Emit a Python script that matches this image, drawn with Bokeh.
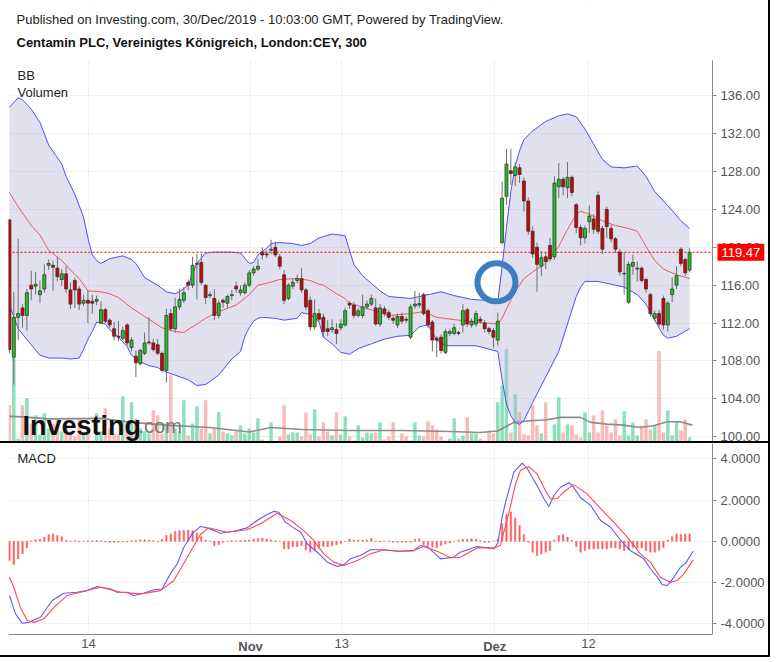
from bokeh.models import (Range1d, FixedTicker, NumeralTickFormatter, Label,
                          ColumnDataSource, LinearAxis, BoxAnnotation)
from bokeh.plotting import figure
from bokeh.layouts import column
from bokeh.embed import file_html
from bokeh.resources import INLINE

FONT = "Liberation Sans"

# ---------------- data ----------------
opens = [122.9, 108.4, 112.6, 113.6, 112.8, 116.0, 115.9, 115.0, 115.6, 118.1,
         118.1, 117.8, 116.6, 117.2, 115.5, 116.5, 115.6, 114.1, 114.4, 114.3,
         114.3, 112.0, 113.4, 112.3, 111.4, 110.6, 110.4, 111.8, 109.4, 108.5,
         107.7, 108.8, 109.9, 109.9, 109.7, 108.8, 107.0, 113.0, 111.4, 113.7,
         114.4, 116.3, 116.0, 118.2, 118.4, 116.0, 114.9, 114.6, 112.8, 114.4,
         114.1, 114.9, 115.9, 115.2, 115.2, 116.0, 117.3, 117.7, 119.5, 119.3,
         119.7, 120.0, 119.0, 117.1, 114.6, 115.9, 116.5, 116.7, 115.5, 114.4,
         111.6, 113.0, 112.6, 111.4, 111.3, 111.3, 111.5, 111.8, 114.1, 113.9,
         112.8, 112.8, 113.7, 114.0, 113.6, 111.9, 113.5, 113.1, 112.5, 111.8,
         112.7, 112.4, 110.5, 113.8, 113.9, 115.0, 113.3, 112.1, 110.4, 110.5,
         108.9, 110.9, 110.9, 110.9, 111.8, 113.4, 111.8, 111.9, 112.4, 112.0,
         111.4, 111.2, 110.2, 120.5, 125.4, 128.1, 127.6, 128.4, 127.0, 124.9,
         121.7, 120.0, 118.0, 119.0, 120.2, 119.0, 126.4, 127.2, 126.3, 127.4,
         124.5, 122.1, 121.0, 122.7, 123.0, 125.5, 122.0, 124.0, 122.0, 120.9,
         119.5, 117.2, 114.2, 118.0, 117.7, 117.8, 116.6, 115.0, 112.5, 113.0,
         114.6, 111.8, 115.0, 116.0, 119.8, 118.7, 117.6]
highs = [123.0, 115.3, 120.9, 114.0, 115.6, 117.5, 117.4, 116.5, 118.2, 118.7,
         118.6, 119.0, 117.7, 118.0, 116.3, 116.8, 115.9, 115.0, 115.5, 115.0,
         114.9, 114.3, 113.6, 112.5, 112.1, 112.2, 111.6, 112.0, 110.5, 109.1,
         109.3, 111.0, 112.6, 110.3, 110.3, 109.0, 113.5, 113.5, 114.7, 115.6,
         115.8, 116.6, 119.0, 119.3, 119.3, 116.1, 115.3, 115.6, 114.4, 114.6,
         115.0, 115.5, 116.4, 116.0, 116.3, 117.6, 118.0, 118.8, 120.0, 119.7,
         120.8, 120.6, 119.3, 117.6, 116.2, 116.7, 117.1, 117.8, 115.7, 114.8,
         114.5, 113.5, 113.0, 112.3, 112.4, 112.0, 112.4, 113.6, 114.3, 114.2,
         113.6, 115.0, 114.4, 115.0, 114.6, 114.0, 113.8, 113.4, 112.8, 113.0,
         113.1, 112.7, 114.0, 115.4, 115.2, 115.2, 113.5, 112.3, 110.6, 110.8,
         111.4, 111.4, 111.9, 111.2, 114.0, 113.6, 112.5, 113.3, 112.7, 112.3,
         111.6, 111.5, 113.1, 127.0, 130.4, 130.4, 129.0, 128.8, 127.4, 125.3,
         122.2, 120.5, 119.6, 119.4, 121.0, 127.5, 128.9, 127.4, 129.0, 127.6,
         124.7, 122.4, 122.3, 124.4, 123.5, 125.9, 122.3, 124.3, 122.4, 121.1,
         119.8, 119.5, 118.5, 119.2, 118.5, 118.0, 116.8, 115.2, 113.3, 113.4,
         114.9, 114.3, 116.8, 118.0, 120.0, 118.9, 119.9]
lows = [108.8, 105.5, 110.2, 111.5, 111.2, 114.4, 115.0, 114.1, 115.2, 117.6,
        115.4, 116.4, 115.9, 115.2, 113.5, 113.6, 113.4, 113.8, 112.0, 113.0,
        113.9, 111.9, 112.0, 111.5, 110.2, 110.1, 110.2, 109.6, 109.0, 106.3,
        107.5, 108.6, 109.7, 109.0, 108.6, 106.8, 105.7, 111.1, 111.0, 113.4,
        114.1, 115.5, 115.7, 114.5, 116.0, 114.0, 114.6, 112.3, 112.5, 113.6,
        113.6, 114.4, 115.2, 114.9, 115.0, 115.8, 117.0, 117.5, 118.7, 118.9,
        119.3, 119.0, 117.7, 114.0, 114.4, 115.6, 116.2, 115.2, 113.4, 111.2,
        111.3, 112.1, 110.5, 110.6, 111.0, 109.8, 111.2, 111.6, 113.5, 112.5,
        112.6, 112.5, 113.4, 113.8, 111.7, 111.6, 112.7, 112.3, 111.9, 111.5,
        111.9, 112.0, 110.3, 113.5, 113.6, 112.8, 111.5, 109.0, 108.4, 108.8,
        108.7, 110.6, 110.7, 110.7, 111.0, 111.6, 111.5, 111.6, 111.9, 111.0,
        110.8, 109.4, 109.6, 120.3, 124.5, 126.6, 126.5, 126.8, 123.8, 121.3,
        118.9, 115.3, 117.0, 117.7, 118.5, 118.7, 125.2, 125.5, 125.2, 125.4,
        121.5, 120.2, 120.4, 121.5, 121.4, 121.4, 119.3, 121.0, 120.5, 119.4,
        117.0, 115.0, 114.0, 117.1, 116.4, 116.3, 115.2, 112.7, 112.2, 111.6,
        111.3, 111.1, 114.2, 115.6, 118.0, 117.0, 117.4]
closes = [109.2, 112.6, 113.0, 112.8, 115.2, 115.6, 116.1, 115.4, 117.1, 118.3,
          117.9, 116.9, 117.2, 115.6, 114.0, 115.5, 114.0, 114.4, 114.1, 114.1,
          114.5, 113.4, 112.2, 111.8, 110.6, 110.5, 111.2, 109.9, 110.2, 107.8,
          109.1, 109.9, 110.0, 109.2, 108.8, 107.0, 112.8, 111.4, 113.7, 114.5,
          115.2, 116.0, 118.1, 118.3, 116.3, 114.7, 115.0, 112.8, 114.1, 114.2,
          114.8, 115.0, 115.6, 115.5, 116.0, 117.3, 117.7, 118.0, 119.2, 119.2,
          119.8, 119.2, 118.0, 114.4, 116.0, 116.3, 116.7, 115.5, 113.7, 111.6,
          113.0, 112.4, 111.1, 111.1, 111.5, 110.9, 111.9, 113.3, 113.9, 112.8,
          113.3, 113.7, 114.0, 114.6, 111.9, 113.6, 113.0, 112.6, 112.3, 112.7,
          112.2, 112.3, 113.7, 114.0, 114.05, 113.0, 111.8, 110.2, 110.2, 109.1,
          111.1, 111.1, 111.5, 111.0, 113.3, 111.9, 112.2, 113.0, 112.2, 111.4,
          111.1, 110.5, 112.2, 125.2, 128.8, 127.8, 128.5, 127.7, 124.9, 121.7,
          119.3, 118.2, 118.9, 118.5, 118.8, 126.8, 127.2, 126.4, 127.4, 125.8,
          122.1, 121.0, 122.0, 123.3, 121.9, 121.7, 119.8, 122.2, 120.9, 119.8,
          117.4, 117.25, 118.2, 118.4, 117.8, 116.5, 115.6, 113.0, 113.0, 111.9,
          111.8, 114.1, 115.6, 117.0, 118.3, 117.3, 119.47]
# volume, thousand shares
volumes = [380, 870, 50, 380, 450, 200, 280, 90, 300, 150,
           200, 250, 120, 180, 120, 70, 250, 100, 150, 30,
           300, 120, 350, 150, 100, 90, 470, 200, 410, 250,
           150, 120, 100, 330, 280, 100, 200, 680, 150, 120,
           430, 80, 200, 370, 150, 430, 100, 150, 310, 120,
           100, 80, 120, 180, 100, 150, 110, 250, 40, 20,
           210, 20, 70, 380, 90, 110, 110, 70, 310, 90,
           340, 70, 210, 120, 80, 310, 90, 270, 70, 30,
           180, 60, 110, 100, 110, 210, 40, 70, 210, 30,
           100, 70, 30, 210, 80, 70, 220, 180, 140, 70,
           30, 50, 250, 50, 80, 260, 100, 100, 50, 30,
           130, 100, 410, 580, 940, 110, 490, 310, 90, 80,
           380, 180, 100, 410, 30, 190, 460, 110, 190, 180,
           90, 60, 310, 110, 280, 110, 330, 180, 110, 240,
           80, 320, 80, 210, 80, 180, 240, 140, 180, 920,
           110, 330, 80, 220, 130, 240, 60]
volma_i = [0, 3, 9, 21, 28, 37, 46, 55, 60, 67, 78, 90, 101, 108, 112,
           115.7, 119.5, 123.3, 126.4, 131, 133.3, 137, 140.8, 144.7, 147.7,
           150.9, 153.9, 156.6]
volma_v = [270, 265, 245, 250, 210, 180, 160, 115, 160, 140, 130, 130, 120, 110, 125,
           210, 227, 237, 260, 260, 210, 193, 183, 160, 177, 217, 217, 183]

upper_i = [0, 2, 3, 5, 7, 9, 12, 13, 15, 17, 18, 19, 20, 21, 23, 26, 28, 29, 31, 34,
           36, 38, 39, 41, 43, 45, 47, 51, 53, 55, 56, 57, 59, 60, 62, 65, 67, 69,
           71, 74, 76, 77, 79, 81, 83, 85, 87, 92, 95, 99, 102, 106, 109, 112, 113,
           114, 115, 116, 117, 118, 120, 123, 126, 128, 130, 132, 134, 136, 138,
           141, 144, 146, 148, 150, 152, 154, 156]
upper_v = [134.8, 135.8, 135.6, 134.6, 133.2, 130.8, 128.8, 127.5, 125.6, 123.2,
           121.0, 119.2, 118.6, 118.3, 118.8, 119.1, 118.7, 118.3, 116.8, 116.0,
           115.3, 115.1, 115.3, 116.0, 118.3, 119.4, 119.5, 119.5, 119.4, 118.3,
           118.4, 119.2, 119.9, 120.4, 120.5, 120.4, 120.2, 120.4, 121.0, 121.4,
           121.3, 121.2, 118.2, 117.0, 116.2, 115.4, 114.8, 114.6, 114.9, 115.3,
           114.9, 114.5, 114.4, 114.2, 118.0, 122.1, 125.9, 128.6, 130.2, 131.4,
           132.3, 133.3, 133.9, 134.1, 133.8, 132.5, 130.9, 129.3, 128.5, 128.4,
           128.6, 127.5, 125.9, 124.9, 123.9, 122.8, 122.0]
middle_i = [0, 2, 5, 7, 9, 12, 14, 16, 18, 21, 23, 25, 28, 32, 35, 38, 40, 43, 45,
            47, 48, 52, 55, 57, 59, 62, 66, 69, 71, 72, 75, 77, 78, 83, 87, 92, 95,
            98, 103, 107, 112, 113, 114, 115, 116, 117, 118, 120, 123, 126, 128,
            130, 131, 133, 136, 139, 142, 144, 146, 148, 150, 153, 156]
middle_v = [125.8, 124.3, 122.3, 121.3, 119.7, 118.6, 117.6, 116.7, 115.4, 115.3,
            115.1, 114.7, 113.6, 112.4, 111.5, 111.1, 111.0, 111.9, 112.5, 113.0,
            113.2, 113.9, 115.0, 116.0, 116.2, 116.6, 116.7, 116.5, 116.1, 116.0,
            115.1, 114.6, 114.1, 113.4, 112.8, 113.0, 113.2, 112.6, 112.3, 112.1,
            111.9, 112.5, 113.5, 114.4, 115.3, 116.0, 116.7, 117.4, 118.3, 120.1,
            121.9, 123.5, 123.8, 123.5, 122.8, 122.3, 122.0, 121.7, 120.1, 118.6,
            117.7, 117.1, 116.7]
lower_i = [0, 2, 5, 7, 9, 12, 14, 16, 17, 18, 19, 20, 22, 23, 25, 27, 28, 30, 32,
           34, 36, 38, 41, 43, 45, 48, 51, 53, 54, 55, 56, 57, 58, 61, 63, 66, 67,
           69, 71, 72, 74, 76, 78, 80, 83, 86, 89, 92, 94, 96, 98, 100, 104, 107,
           112, 113, 114, 115, 116, 117, 118, 120, 123, 126, 128, 130, 131, 132,
           135, 138, 141, 144, 146, 148, 150, 151, 153, 156]
lower_v = [113.9, 111.4, 109.7, 108.6, 108.3, 108.3, 108.2, 108.3, 109.2, 110.3,
           111.1, 112.1, 111.9, 111.3, 110.5, 109.5, 108.6, 107.9, 107.5, 107.3,
           106.8, 106.5, 106.0, 105.4, 105.5, 106.5, 108.2, 109.0, 110.6, 111.5,
           112.2, 112.5, 112.6, 112.5, 112.3, 112.5, 113.1, 112.9, 112.1, 110.5,
           109.8, 108.9, 108.7, 109.3, 109.8, 110.3, 110.6, 110.7, 111.6, 111.8,
           110.2, 109.6, 109.6, 109.6, 109.0, 106.0, 103.4, 102.2, 101.5, 101.3,
           101.7, 103.6, 106.3, 109.0, 111.9, 114.8, 115.8, 116.4, 116.4, 116.1,
           115.8, 115.0, 114.0, 112.3, 110.7, 110.4, 110.6, 111.4]

macd_i = [0, 1.4, 2.9, 4.4, 7.1, 9.8, 12.5, 15.5, 17.8, 20.1, 23.2, 24.7, 27, 28.5,
          30.8, 33.1, 35, 36.9, 38.5, 40, 41.9, 43.8, 45.4, 48.4, 51.5, 54.5, 56.8,
          59.1, 60.6, 61.8, 63.3, 65.2, 66.8, 68.3, 70.6, 72.9, 75.2, 76.7, 78.2,
          80.5, 82.8, 85.1, 89.7, 92.7, 94.3, 95.8, 98.9, 101.9, 103.4, 107.3,
          111.1, 112, 113, 113.8, 115.7, 117.6, 118.8, 121, 122.6, 123.7, 124.9,
          126.4, 128.3, 129.1, 131, 133.3, 135.6, 137.9, 140.2, 142.4, 145.5, 147,
          148.6, 149.7, 150.9, 152.4, 153.9, 155.1, 156.8]
macd_v = [-2.63, -3.52, -3.97, -3.93, -3.68, -2.87, -2.52, -2.47, -2.39, -2.19,
          -2.31, -2.47, -2.47, -2.63, -2.52, -2.35, -2.31, -1.58, -1.09, -0.29,
          0.36, 0.72, 0.65, 0.39, 0.49, 0.65, 1.01, 1.30, 1.45, 1.41, 0.93, 0.65,
          0.44, -0.12, -0.53, -1.01, -1.22, -1.13, -0.85, -0.69, -0.41, -0.41,
          -0.48, -0.45, -0.20, -0.25, -0.85, -0.77, -0.53, -0.25, -0.36, -0.10,
          1.17, 1.90, 3.35, 3.79, 3.52, 2.71, 2.06, 1.69, 2.22, 2.62, 2.84, 2.71,
          2.11, 1.74, 1.01, 0.68, 0.04, -0.45, -0.85, -1.33, -1.74, -2.10, -2.14,
          -1.74, -1.26, -1.06, -0.48]
signal_i = [0, 1, 2.5, 4.1, 5.6, 7.9, 10.2, 13.2, 16.3, 20.9, 25.5, 30.1, 34.6,
            37.7, 40.8, 43.8, 45.7, 49.9, 54.5, 57.6, 61.4, 64.5, 67.5, 69.8, 72.1,
            74.4, 76.7, 79.8, 82.8, 85.9, 88.9, 92.7, 95, 98.1, 101.2, 103.4, 107.3,
            111.1, 112.6, 114.5, 116.1, 117.2, 119.1, 121, 122.9, 124.1, 125.6,
            127.1, 129.4, 132.5, 135.6, 138.6, 141.7, 144.7, 147, 149.3, 151.6,
            153.2, 154.7, 156.8]
signal_v = [-1.74, -2.23, -3.20, -3.84, -3.93, -3.76, -3.20, -2.63, -2.47, -2.23,
            -2.47, -2.55, -2.39, -1.90, -0.77, 0.33, 0.65, 0.44, 0.56, 0.85, 1.36,
            1.01, 0.52, 0.04, -0.61, -1.01, -1.17, -0.93, -0.61, -0.41, -0.48,
            -0.45, -0.25, -0.48, -0.80, -0.77, -0.32, -0.32, -0.20, 1.33, 2.79,
            3.44, 3.63, 3.27, 2.47, 2.06, 2.06, 2.38, 2.75, 2.30, 1.58, 0.93, 0.20,
            -0.61, -1.01, -1.74, -1.98, -1.90, -1.58, -0.90]
macd_hist = [-0.93, -1.13, -0.86, -0.6, -0.32, 0.02, 0.08, 0.1, 0.2, 0.32,
             0.36, 0.28, 0.22, 0.06, 0.02, 0.03, -0.02, 0.02, 0.03, 0.03,
             0.04, 0.02, -0.03, -0.05, -0.05, -0.04, -0.02, -0.03, 0.03, 0.05,
             0.07, 0.07, 0.05, 0.03, -0.02, 0.1, 0.28, 0.36, 0.48, 0.52,
             0.52, 0.55, 0.52, 0.4, 0.22, 0.06, 0.0, -0.2, -0.16, -0.05,
             0.0, 0.03, 0.02, 0.04, 0.06, 0.06, 0.11, 0.14, 0.16, 0.11,
             0.06, 0.03, 0.0, -0.37, -0.37, -0.26, -0.26, -0.21, -0.42, -0.53,
             -0.42, -0.33, -0.26, -0.26, -0.21, -0.16, -0.1, 0.0, 0.11, 0.06,
             0.06, 0.06, 0.06, 0.14, 0.02, -0.02, 0.0, 0.02, -0.05, -0.05,
             -0.04, -0.05, -0.04, 0.1, 0.12, -0.15, -0.2, -0.28, -0.3, -0.2,
             -0.12, -0.08, 0.0, 0.05, 0.1, 0.1, 0.12, 0.1, 0.02, -0.05,
             -0.05, 0.0, 0.1, 0.86, 1.3, 1.42, 1.13, 0.76, 0.33, -0.05,
             -0.53, -0.69, -0.61, -0.53, -0.45, 0.06, 0.28, 0.33, 0.2, 0.05,
             -0.26, -0.53, -0.45, -0.37, -0.37, -0.37, -0.37, -0.37, -0.32, -0.32,
             -0.37, -0.45, -0.41, -0.29, -0.32, -0.32, -0.45, -0.53, -0.53, -0.45,
             -0.29, 0.06, 0.22, 0.36, 0.33, 0.36, 0.36]

last_price = 119.47
price_ticks = [100, 104, 108, 112, 116, 120, 124, 128, 132, 136]
macd_ticks = [-4, -2, 0, 2, 4]
date_tick_pos = [18.13, 55.3, 76.2, 111.3, 132.8]
date_tick_labels = ["14", "Nov", "13", "Dez", "12"]
date_tick_bold = [False, True, False, True, False]
highlight_x = [111.7]
highlight_y = [116.3]

header_1 = "Published on Investing.com, 30/Dec/2019 - 10:03:00 GMT, Powered by TradingView."
header_2 = "Centamin PLC, Vereinigtes Königreich, London:CEY, 300"

# ---------------- page geometry (pixels) ----------------
BAR0_PX, BAR_PX = 8.94, 4.36          # x of bar 0, pixels per bar
P136_PX, PRICE_PX = 95.0, 9.42        # y of 136.00, pixels per price unit
M0_PX, MACD_PX = 540.8, 20.625        # y of MACD 0, pixels per unit
LEFT, AXIS_X, RIGHT = 8, 712, 768
PANE_TOP, SEP, MACD_TOP, MACD_AXIS, BOTTOM = 60, 441, 443, 634, 655


def bar_at(px):
    return (px - BAR0_PX) / BAR_PX


def price_at(py):
    return 136 - (py - P136_PX) / PRICE_PX


def macd_at(py):
    return (M0_PX - py) / MACD_PX


X_START, X_AXIS, X_END = bar_at(LEFT), bar_at(AXIS_X), bar_at(RIGHT)
P_LOW, P_HIGH, P_TOP = price_at(SEP), price_at(PANE_TOP), price_at(0)
M_TOP, M_AXIS, M_LOW = macd_at(MACD_TOP), macd_at(MACD_AXIS), macd_at(BOTTOM)

# ---------------- sources ----------------
N = len(closes)
xs = list(range(N))
inc = [c >= o for o, c in zip(opens, closes)]
src = ColumnDataSource(dict(
    x=xs, high=highs, low=lows,
    top=[max(o, c) for o, c in zip(opens, closes)],
    bottom=[min(o, c) for o, c in zip(opens, closes)],
    body=["#1ec71e" if u else "#d40000" for u in inc],
    vol=volumes,
    vcol=["#8ee0bd" if u else "#f9baba" for u in inc],
    hist=macd_hist,
))

GRID = "#efefef"
AXC = "#8a8a8a"
TXT = "#555555"


def style_yaxis(ax, ticks, fmt):
    ax.ticker = FixedTicker(ticks=ticks)
    ax.formatter = NumeralTickFormatter(format=fmt)
    ax.major_label_text_font = FONT
    ax.major_label_text_font_size = "13px"
    ax.major_label_text_color = TXT
    ax.axis_line_color = AXC
    ax.major_tick_line_color = AXC
    ax.major_tick_out = 4
    ax.major_tick_in = 0
    ax.minor_tick_line_color = None
    ax.major_label_standoff = 4


def cover(fig, **kw):
    fig.add_layout(BoxAnnotation(fill_color="white", fill_alpha=1, line_color=None,
                                 level="underlay", **kw))


# ---------------- price pane ----------------
p = figure(frame_width=RIGHT - LEFT, frame_height=SEP,
           x_range=Range1d(X_START, X_END), y_range=Range1d(P_LOW, P_TOP),
           x_axis_location=None, y_axis_location=None,
           min_border_left=LEFT, min_border_right=0, min_border_top=0, min_border_bottom=0,
           output_backend="svg", toolbar_location=None)
p.outline_line_color = None
p.extra_y_ranges = {"vol": Range1d(0, SEP * 10)}
p.styles = {"border-bottom": "2px solid #000"}
p.xgrid.ticker = FixedTicker(ticks=date_tick_pos)
p.xgrid.grid_line_color = GRID
p.ygrid.ticker = FixedTicker(ticks=price_ticks)
p.ygrid.grid_line_color = GRID
cover(p, left=X_AXIS)
cover(p, bottom=P_HIGH)

pax = LinearAxis(fixed_location=X_AXIS, bounds=(P_LOW, P_HIGH))
style_yaxis(pax, price_ticks, "0.00")
p.add_layout(pax, "right")

# volume
p.vbar(x="x", width=0.8, top="vol", bottom=0, y_range_name="vol",
       fill_color="vcol", line_color=None, source=src)
p.line(volma_i, volma_v, y_range_name="vol", line_color="#8c8c8c", line_width=1.6)

# Bollinger band
p.patch(upper_i + lower_i[::-1], upper_v + lower_v[::-1],
        fill_color="#b4b4d6", fill_alpha=0.42, line_color=None)
p.line(upper_i, upper_v, line_color="#4f4ff5", line_width=1)
p.line(lower_i, lower_v, line_color="#4f4ff5", line_width=1)
p.line(middle_i, middle_v, line_color="#f05a5a", line_width=1)

# last price line
p.segment(x0=[X_START], x1=[X_AXIS], y0=[last_price], y1=[last_price],
          line_color="#ff2020", line_dash="2 2", line_width=1.3)

# candles
p.segment(x0="x", y0="low", x1="x", y1="high", line_color="#6e6e6e", line_width=1, source=src)
p.vbar(x="x", width=0.68, top="top", bottom="bottom", fill_color="body",
       line_color="#333333", line_width=0.8, source=src)

# highlight ring
p.scatter(highlight_x, highlight_y, size=38, fill_alpha=0, line_color="#3b7ec4", line_width=6)

# texts
p.add_layout(Label(x=X_AXIS, x_offset=5, y=last_price, text="119.47",
                   text_color="white", background_fill_color="#ff0000",
                   text_font=FONT, text_font_size="13px", text_baseline="middle", padding=4))
p.add_layout(Label(x=8, y=SEP - 17, x_units="screen", y_units="screen", text=header_1,
                   text_font=FONT, text_font_size="13px", text_color="#222222",
                   text_baseline="middle"))
p.add_layout(Label(x=8, y=SEP - 40, x_units="screen", y_units="screen", text=header_2,
                   text_font=FONT, text_font_size="13px", text_font_style="bold",
                   text_color="#111111", text_baseline="middle"))
p.add_layout(Label(x=9, y=SEP - 73, x_units="screen", y_units="screen", text="BB",
                   text_font=FONT, text_font_size="13px", text_color="#222222",
                   text_baseline="middle"))
p.add_layout(Label(x=9, y=SEP - 90, x_units="screen", y_units="screen", text="Volumen",
                   text_font=FONT, text_font_size="13px", text_color="#222222",
                   text_baseline="middle"))
p.add_layout(Label(x=14, y=18, x_units="screen", y_units="screen", text="Investing",
                   text_font=FONT, text_font_size="27px", text_font_style="bold",
                   text_color="#111111", text_baseline="alphabetic"))
p.add_layout(Label(x=130, y=18, x_units="screen", y_units="screen", text=".com",
                   text_font=FONT, text_font_size="20px",
                   text_color="#777777", text_baseline="alphabetic"))

# ---------------- MACD pane ----------------
p2 = figure(frame_width=RIGHT - LEFT, frame_height=BOTTOM - MACD_TOP, x_range=p.x_range,
            y_range=Range1d(M_LOW, M_TOP), x_axis_location=None, y_axis_location=None,
            min_border_left=LEFT, min_border_right=0, min_border_top=0, min_border_bottom=0,
            output_backend="svg", toolbar_location=None)
p2.outline_line_color = None
p2.xgrid.ticker = FixedTicker(ticks=date_tick_pos)
p2.xgrid.grid_line_color = GRID
p2.ygrid.ticker = FixedTicker(ticks=macd_ticks)
p2.ygrid.grid_line_color = GRID
cover(p2, left=X_AXIS)
cover(p2, top=M_AXIS)

max_ = LinearAxis(fixed_location=X_AXIS, bounds=(M_AXIS, M_TOP))
style_yaxis(max_, macd_ticks, "0.0000")
p2.add_layout(max_, "right")

for bold in (False, True):
    pos = [t for t, b in zip(date_tick_pos, date_tick_bold) if b == bold]
    labs = {t: l for t, l, b in zip(date_tick_pos, date_tick_labels, date_tick_bold) if b == bold}
    xa = LinearAxis(fixed_location=M_AXIS, bounds=(X_START, X_AXIS),
                    ticker=FixedTicker(ticks=pos), major_label_overrides=labs)
    xa.axis_line_color = None if bold else AXC
    xa.major_tick_line_color = None
    xa.major_tick_out = 0
    xa.major_tick_in = 0
    xa.minor_tick_line_color = None
    xa.minor_tick_out = 0
    xa.major_label_text_font = FONT
    xa.major_label_text_font_size = "13px"
    xa.major_label_text_color = TXT
    xa.major_label_text_font_style = "bold" if bold else "normal"
    xa.major_label_standoff = 4
    p2.add_layout(xa, "below")

p2.vbar(x="x", width=0.3, top="hist", bottom=0, fill_color="#ff5a5a",
        line_color="#ff5a5a", line_width=0.6, source=src)
p2.line(macd_i, macd_v, line_color="#5a5aff", line_width=1.1)
p2.line(signal_i, signal_v, line_color="#ff4a4a", line_width=1.1)

p2.add_layout(Label(x=9, y=BOTTOM - 458, x_units="screen", y_units="screen", text="MACD",
                    text_font=FONT, text_font_size="13px", text_color="#222222",
                    text_baseline="middle"))

layout = column(p, p2, styles={"border-right": "2px solid #000",
                               "border-bottom": "2px solid #000"})

open("out.html", "w").write(file_html(layout, INLINE))
